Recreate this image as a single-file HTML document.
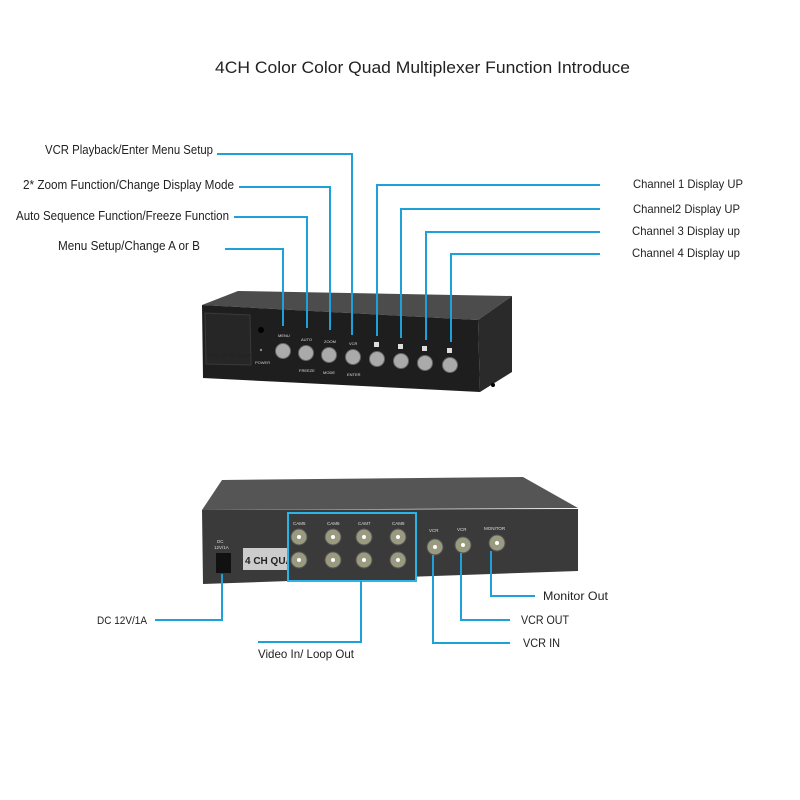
<!DOCTYPE html>
<html><head><meta charset="utf-8"><style>
html,body{margin:0;padding:0;background:#fff}
svg{display:block}
text{font-family:"Liberation Sans",sans-serif;fill:#222}
</style></head><body>
<svg width="800" height="800" viewBox="0 0 800 800" xmlns="http://www.w3.org/2000/svg">
<rect width="800" height="800" fill="#fff"/>
<text x="215" y="73" font-size="17" textLength="415" lengthAdjust="spacingAndGlyphs">4CH Color Color Quad Multiplexer Function Introduce</text>

<!-- front device -->
<polygon points="202,305 238,291 512,296 478,320" fill="#4c4c4c"/>
<polygon points="478,320 512,296 512,372 480,392" fill="#2a2a2a"/>
<polygon points="202,305 478,320 480,392 203,378" fill="#1e1e1e"/>
<polygon points="205,313 250,315 251,365 206,364" fill="#262626" stroke="#3a3a3a" stroke-width="1"/>
<text x="208" y="357" font-size="5" fill="#555">Color QUAD System</text>
<circle cx="261" cy="330" r="3" fill="#000"/>
<circle cx="261" cy="350" r="1.2" fill="#888"/>
<text x="255" y="364" font-size="4" style="fill:#ccc">POWER</text>
<g fill="#aaa" stroke="#666" stroke-width="1">
<circle cx="283" cy="351" r="7.5"/><circle cx="306" cy="353" r="7.5"/><circle cx="329" cy="355" r="7.5"/><circle cx="353" cy="357" r="7.5"/>
<circle cx="377" cy="359" r="7.5"/><circle cx="401" cy="361" r="7.5"/><circle cx="425" cy="363" r="7.5"/><circle cx="450" cy="365" r="7.5"/>
</g>
<g font-size="4">
<text x="278" y="337" style="fill:#ddd">MENU</text><text x="301" y="341" style="fill:#ddd">AUTO</text>
<text x="324" y="343" style="fill:#ddd">ZOOM</text><text x="349" y="345" style="fill:#ddd">VCR</text>
<text x="299" y="372" style="fill:#ddd">FREEZE</text><text x="323" y="374" style="fill:#ddd">MODE</text><text x="347" y="376" style="fill:#ddd">ENTER</text>
</g>
<g fill="#ddd"><rect x="374" y="342" width="5" height="5"/><rect x="398" y="344" width="5" height="5"/><rect x="422" y="346" width="5" height="5"/><rect x="447" y="348" width="5" height="5"/></g>
<circle cx="493" cy="385" r="2" fill="#000"/>

<!-- front callouts -->
<g stroke="#1ea0d8" stroke-width="2" fill="none">
<polyline points="217,154 352,154 352,335"/>
<polyline points="239,187 330,187 330,330"/>
<polyline points="234,217 307,217 307,328"/>
<polyline points="225,249 283,249 283,326"/>
<polyline points="600,185 377,185 377,336"/>
<polyline points="600,209 401,209 401,338"/>
<polyline points="600,232 426,232 426,340"/>
<polyline points="600,254 451,254 451,342"/>
</g>
<g font-size="12.5" lengthAdjust="spacingAndGlyphs">
<text x="45" y="154" textLength="168" lengthAdjust="spacingAndGlyphs">VCR Playback/Enter Menu Setup</text>
<text x="23" y="189" textLength="211" lengthAdjust="spacingAndGlyphs">2* Zoom Function/Change Display Mode</text>
<text x="16" y="220" textLength="213" lengthAdjust="spacingAndGlyphs">Auto Sequence Function/Freeze Function</text>
<text x="58" y="250" textLength="142" lengthAdjust="spacingAndGlyphs">Menu Setup/Change A or B</text>
</g>
<g font-size="12">
<text x="633" y="188" textLength="110" lengthAdjust="spacingAndGlyphs">Channel 1 Display UP</text>
<text x="633" y="213" textLength="107" lengthAdjust="spacingAndGlyphs">Channel2 Display UP</text>
<text x="632" y="235" textLength="108" lengthAdjust="spacingAndGlyphs">Channel 3 Display up</text>
<text x="632" y="257" textLength="108" lengthAdjust="spacingAndGlyphs">Channel 4 Display up</text>
</g>

<!-- back device -->
<polygon points="202,510 222,480 523,477 578,508" fill="#555"/>
<polygon points="202,510 578,509 578,571 203,584" fill="#3a3a3a"/>
<rect x="216" y="553" width="15" height="20" fill="#111"/>
<text x="217" y="543" font-size="4.5" style="fill:#ddd">DC</text>
<text x="214" y="549" font-size="4.5" style="fill:#ddd">12V/1A</text>
<rect x="243" y="548" width="50" height="22" fill="#ccc"/>
<text x="245" y="564" font-size="10" font-weight="bold" style="fill:#222">4 CH QUAD</text>
<rect x="288" y="513" width="128" height="68" fill="#3a3a3a" stroke="#2ab4e8" stroke-width="2"/>
<g fill="#9a9a80" stroke="#555" stroke-width="1">
<circle cx="299" cy="537" r="8"/><circle cx="333" cy="537" r="8"/><circle cx="364" cy="537" r="8"/><circle cx="398" cy="537" r="8"/>
<circle cx="299" cy="560" r="8"/><circle cx="333" cy="560" r="8"/><circle cx="364" cy="560" r="8"/><circle cx="398" cy="560" r="8"/>
<circle cx="435" cy="547" r="8"/><circle cx="463" cy="545" r="8"/><circle cx="497" cy="543" r="8"/>
</g>
<g fill="#fff">
<circle cx="299" cy="537" r="2"/><circle cx="333" cy="537" r="2"/><circle cx="364" cy="537" r="2"/><circle cx="398" cy="537" r="2"/>
<circle cx="299" cy="560" r="2"/><circle cx="333" cy="560" r="2"/><circle cx="364" cy="560" r="2"/><circle cx="398" cy="560" r="2"/>
<circle cx="435" cy="547" r="2"/><circle cx="463" cy="545" r="2"/><circle cx="497" cy="543" r="2"/>
</g>
<g font-size="4.5">
<text x="293" y="525" style="fill:#ddd">CAM5</text><text x="327" y="525" style="fill:#ddd">CAM6</text>
<text x="358" y="525" style="fill:#ddd">CAM7</text><text x="392" y="525" style="fill:#ddd">CAM8</text>
<text x="429" y="532" style="fill:#ddd">VCR</text><text x="457" y="531" style="fill:#ddd">VCR</text><text x="484" y="530" style="fill:#ddd">MONITOR</text>
</g>

<!-- back callouts -->
<g stroke="#1ea0d8" stroke-width="2" fill="none">
<polyline points="222,574 222,620 155,620"/>
<polyline points="361,581 361,642 258,642"/>
<polyline points="433,555 433,643 510,643"/>
<polyline points="461,553 461,620 510,620"/>
<polyline points="491,551 491,596 535,596"/>
</g>
<g font-size="12">
<text x="97" y="624" font-size="11" textLength="50" lengthAdjust="spacingAndGlyphs">DC 12V/1A</text>
<text x="258" y="658" textLength="96" lengthAdjust="spacingAndGlyphs">Video In/ Loop Out</text>
<text x="523" y="647" textLength="37" lengthAdjust="spacingAndGlyphs">VCR IN</text>
<text x="521" y="624" textLength="48" lengthAdjust="spacingAndGlyphs">VCR OUT</text>
<text x="543" y="600" textLength="65" lengthAdjust="spacingAndGlyphs">Monitor Out</text>
</g>
</svg>
</body></html>
